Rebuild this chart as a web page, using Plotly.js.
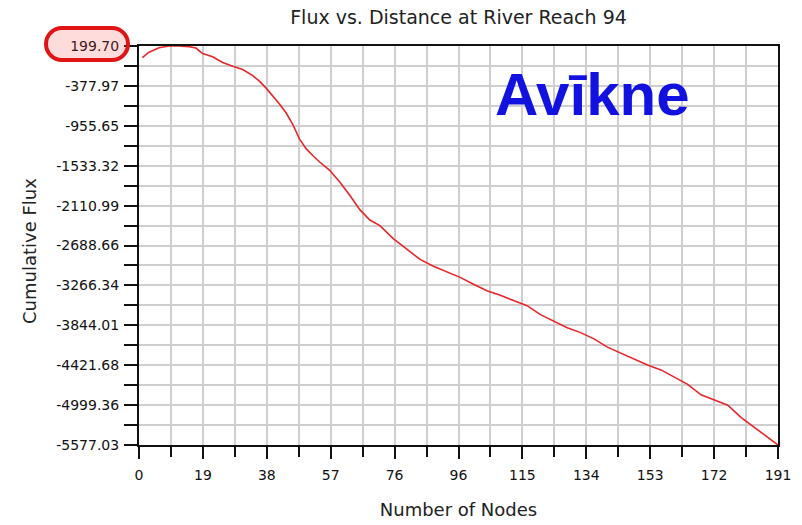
<!DOCTYPE html>
<html>
<head>
<meta charset="utf-8">
<script src="https://cdn.plot.ly/plotly-3.0.1.min.js"></script>
<style>html,body{margin:0;padding:0;background:#fff;}#chart{width:802px;height:525px;}</style>
</head>
<body>
<div id="chart"></div>
<script>
// Data
const nodes = [1,3,6,9,12,15,17,19,22,25,28,31,34,36,38,40,42,44,46,48,50,52,54,57,60,63,66,69,72,76,80,84,88,92,96,100,104,108,112,116,120,124,128,132,136,140,144,148,152,156,160,164,168,172,176,180,184,188,191];
const cumulativeFlux = [30,110,175,199,199,190,170,90,45,-40,-95,-140,-230,-310,-410,-520,-640,-770,-940,-1150,-1290,-1390,-1480,-1600,-1770,-1960,-2170,-2320,-2400,-2590,-2740,-2890,-2990,-3070,-3150,-3250,-3345,-3410,-3480,-3560,-3690,-3790,-3880,-3950,-4040,-4160,-4250,-4330,-4420,-4490,-4590,-4700,-4850,-4920,-5000,-5180,-5320,-5460,-5577];

const xTickVals = [0,19.1,38.2,57.3,76.4,95.5,114.6,133.7,152.8,171.9,191];
const xTickLabels = ['0','19','38','57','76','96','115','134','153','172','191'];
const yTickLabels = ['199.70','-377.97','-955.65','-1533.32','-2110.99','-2688.66','-3266.34','-3844.01','-4421.68','-4999.36','-5577.03'];
const yTickVals = yTickLabels.map(Number);

const titleText = 'Flux vs. Distance at River Reach 94';
const xTitle = 'Number of Nodes';
const yTitle = 'Cumulative Flux';
const stamp = 'Avīkne';

const tickFont = {family: 'DejaVu Sans', size: 14, color: '#111'};
const gridColor = '#cfcfcf';

const trace = {
  x: nodes, y: cumulativeFlux, type: 'scatter', mode: 'lines',
  line: {color: '#e8262a', width: 1.6}, hoverinfo: 'skip', cliponaxis: false
};

const layout = {
  width: 802, height: 525,
  margin: {l: 139, r: 24, t: 46, b: 80},
  paper_bgcolor: '#fff', plot_bgcolor: '#fff',
  showlegend: false,
  title: {text: titleText, font: {family: 'DejaVu Sans', size: 19, color: '#222'},
          xref: 'paper', x: 0.5, xanchor: 'center', yref: 'container', y: 1 - 17/525, yanchor: 'middle'},
  xaxis: {
    range: [0, 191], tickmode: 'array', tickvals: xTickVals, ticktext: xTickLabels,
    showgrid: true, gridcolor: gridColor, gridwidth: 2,
    ticks: 'outside', ticklen: 12, tickwidth: 2, tickcolor: '#111', ticklabelstandoff: 4,
    showline: true, linecolor: '#111', linewidth: 2, mirror: true, zeroline: false,
    tickfont: tickFont,
    minor: {tickmode: 'linear', tick0: 0, dtick: 9.55, showgrid: true, gridcolor: gridColor, gridwidth: 2,
            ticks: 'outside', ticklen: 10, tickwidth: 2, tickcolor: '#111'},
    title: {text: xTitle, font: {family: 'DejaVu Sans', size: 18, color: '#222'}, standoff: 22}
  },
  yaxis: {
    range: [-5577.03, 199.70], tickmode: 'array', tickvals: yTickVals, ticktext: yTickLabels,
    showgrid: true, gridcolor: gridColor, gridwidth: 2,
    ticks: 'outside', ticklen: 13, tickwidth: 2, tickcolor: '#111', ticklabelstandoff: 2,
    showline: true, linecolor: '#111', linewidth: 2, mirror: true, zeroline: false,
    tickfont: tickFont,
    minor: {tickmode: 'linear', tick0: 199.70, dtick: 288.8365, showgrid: true, gridcolor: gridColor, gridwidth: 2,
            ticks: 'outside', ticklen: 13, tickwidth: 2, tickcolor: '#111'}
  },
  annotations: [{
    text: stamp, xref: 'paper', yref: 'paper', x: (592-139)/639, y: (445-94)/399,
    xanchor: 'center', yanchor: 'middle', showarrow: false,
    font: {family: 'Liberation Sans', size: 60, color: '#1212e0', weight: 'bold'}
  }, {
    text: yTitle, xref: 'paper', yref: 'paper', x: (29-139)/639, y: (445-251)/399,
    xanchor: 'center', yanchor: 'middle', showarrow: false, textangle: -90,
    font: {family: 'DejaVu Sans', size: 18, color: '#222'}
  }],
  shapes: [{
    type: 'path', layer: 'above',
    xref: 'paper', yref: 'paper', xsizemode: 'pixel', ysizemode: 'pixel', xanchor: 0, yanchor: 1,
    path: 'M -77 18 L -27 18 C -18.2 18 -11 10.8 -11 2 C -11 -6.8 -18.2 -14 -27 -14 L -77 -14 C -85.8 -14 -93 -6.8 -93 2 C -93 10.8 -85.8 18 -77 18 Z',
    line: {color: '#e01414', width: 4}, fillcolor: 'rgba(255,60,60,0.18)'
  }]
};

Plotly.newPlot('chart', [trace], layout, {staticPlot: true, displayModeBar: false});
</script>
</body>
</html>
